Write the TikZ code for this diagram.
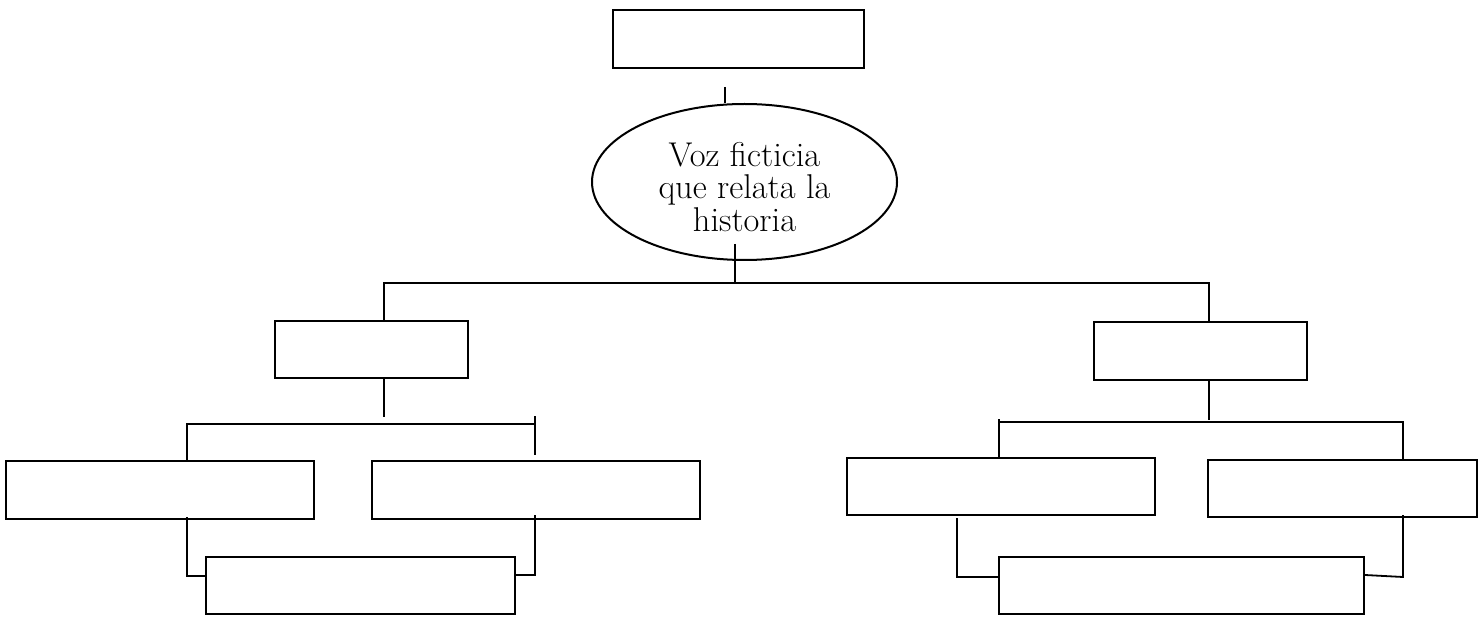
\documentclass[tikz,border=0pt]{standalone}
\usetikzlibrary{shapes.geometric}
\begin{document}
\begin{tikzpicture}[x=0.5pt, y=-0.5pt,
	every node/.style = {shape=rectangle, draw, line width=1pt,
		inner sep=0pt, align=center},
	bubble/.style = {shape=ellipse, minimum width=152.5pt, minimum height=78pt,
		font=\fontsize{17.2}{16.3}\selectfont},
	link/.style = {line width=0.9pt}]
	\useasboundingbox (0,0) rectangle (1482,620);
	\node (top) [minimum width=125.5pt, minimum height=29pt] at (738.5,39) {};
	\node (voz) [bubble] at (744.5,182) {\rule{0pt}{17pt}Voz ficticia
		\\que relata la
		\\historia};
	\node (izq) [minimum width=96.5pt, minimum height=28.5pt] at (371.5,349.5) {};
	\node (der) [minimum width=106.5pt, minimum height=29pt] at (1200.5,351) {};
	\node (izqA) [minimum width=154pt, minimum height=29pt] at (160,490) {};
	\node (izqB) [minimum width=164pt, minimum height=29pt] at (536,490) {};
	\node (izqC) [minimum width=154.5pt, minimum height=28.5pt] at (360.5,585.5) {};
	\node (derA) [minimum width=154pt, minimum height=28.5pt] at (1001,486.5) {};
	\node (derB) [minimum width=134.5pt, minimum height=28.5pt] at (1342.5,488.5) {};
	\node (derC) [minimum width=182.5pt, minimum height=28.5pt] at (1181.5,585.5) {};
	\coordinate (t1) at (725,87);
	\coordinate (e1) at (735,244);
	\coordinate (b1) at (384,283);
	\coordinate (b2) at (1209,283);
	\coordinate (l1) at (384,417);
	\coordinate (l2) at (187,424);
	\coordinate (l3) at (535,416);
	\coordinate (l4) at (535,455);
	\coordinate (l5) at (187,517);
	\coordinate (l7) at (535,515);
	\coordinate (r1) at (1209,420);
	\coordinate (r2) at (999,419);
	\coordinate (r3) at (1403,422);
	\coordinate (r4) at (957,518);
	\coordinate (r5) at (1403,515);
	\coordinate (r6) at (1403,577);
	\draw[link] (t1) -- (t1 |- voz.north);
	\draw[link] (e1) -- (e1 |- b1);
	\draw[link] (b1 |- izq.north) -- (b1) -- (b2) -- (b2 |- der.north);
	\draw[link] (l1 |- izq.south) -- (l1);
	\draw[link] (l2 |- izqA.north) -- (l2) -- (l2 -| l3);
	\draw[link] (l3) -- (l4);
	\draw[link] (l5) |- ([yshift=4.75pt]izqC.west);
	\draw[link] (l7) |- ([yshift=5.25pt]izqC.east);
	\draw[link] (r1 |- der.south) -- (r1);
	\draw[link] (r2) -- (r2 |- derA.north);
	\draw[link] (r2 |- r3) -- (r3) -- (r3 |- derB.north);
	\draw[link] (r4) |- ([yshift=4.25pt]derC.west);
	\draw[link] (r5) -- (r6) -- ([yshift=5.25pt]derC.east);
\end{tikzpicture}
\end{document}
